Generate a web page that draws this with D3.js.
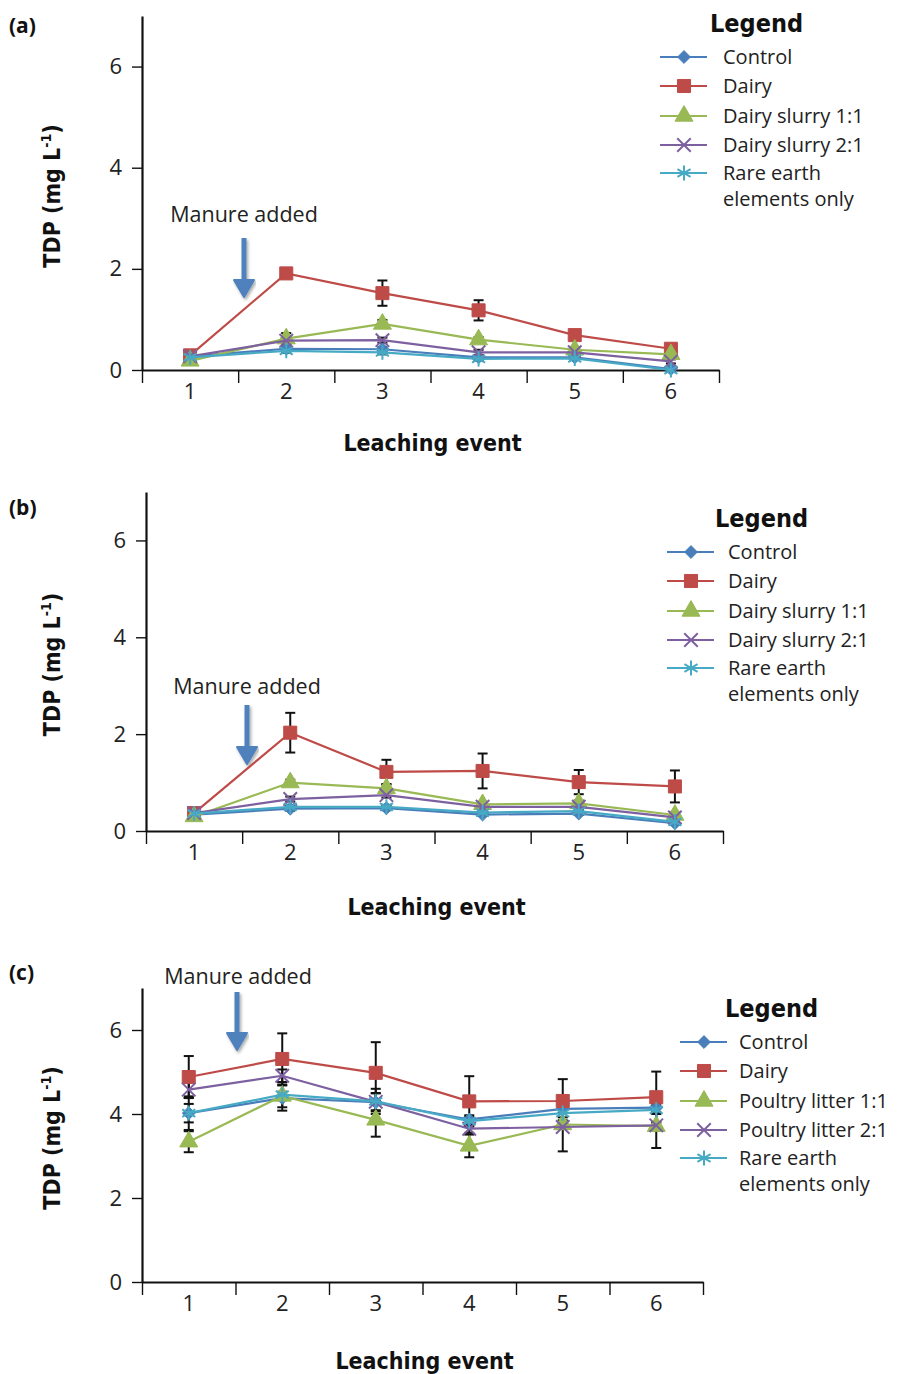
<!DOCTYPE html>
<html lang="en">
<head>
  <meta charset="UTF-8">
  <title>TDP by leaching event</title>
  <style>
      body { margin: 0; background: #fff; }
      .tick text { font: 22px "Open Sans", "Noto Sans", sans-serif; fill: #222; }
      .axis path, .axis line { stroke: #111; }
      .cond { font-family: "Liberation Sans Narrow", "DejaVu Sans Condensed", sans-serif; font-weight: bold; fill: #111; }
      .plain { font-family: "Open Sans", "Noto Sans", sans-serif; fill: #222; }
  </style>
</head>
<body>
<div id="chart"></div>
<script src="https://d3js.org/d3.v7.min.js"></script>
<script>
  const events = ['1', '2', '3', '4', '5', '6'];
  const yTicks = [0, 2, 4, 6];
  const namesAB = ['Control', 'Dairy', 'Dairy slurry 1:1', 'Dairy slurry 2:1', 'Rare earth elements only'];
  const namesC = ['Control', 'Dairy', 'Poultry litter 1:1', 'Poultry litter 2:1', 'Rare earth elements only'];

  // panel (a)
  const aControl = [0.27, 0.42, 0.41, 0.25, 0.25, 0.02];
  const aDairy = [0.29, 1.91, 1.52, 1.18, 0.69, 0.42];
  const aSlurry11 = [0.18, 0.62, 0.91, 0.60, 0.40, 0.31];
  const aSlurry21 = [0.27, 0.58, 0.59, 0.35, 0.35, 0.17];
  const aRare = [0.25, 0.38, 0.35, 0.22, 0.23, 0.00];
  const aControlErr = [0.03, 0.04, 0.04, 0.03, 0.03, 0.02];
  const aDairyErr = [0.04, 0.04, 0.25, 0.20, 0.04, 0.04];
  const aSlurry11Err = [0.03, 0.11, 0.08, 0.05, 0.05, 0.04];
  const aSlurry21Err = [0.03, 0.08, 0.05, 0.05, 0.06, 0.04];
  const aRareErr = [0.03, 0.04, 0.04, 0.03, 0.03, 0.02];

  // panel (b)
  const bControl = [0.34, 0.46, 0.47, 0.34, 0.36, 0.16];
  const bDairy = [0.37, 2.03, 1.22, 1.24, 1.01, 0.92];
  const bSlurry11 = [0.30, 1.00, 0.88, 0.55, 0.57, 0.33];
  const bSlurry21 = [0.37, 0.66, 0.74, 0.50, 0.50, 0.28];
  const bRare = [0.36, 0.50, 0.50, 0.38, 0.41, 0.19];
  const bControlErr = [0.03, 0.04, 0.04, 0.03, 0.03, 0.03];
  const bDairyErr = [0.05, 0.41, 0.25, 0.36, 0.25, 0.33];
  const bSlurry11Err = [0.03, 0.06, 0.08, 0.05, 0.06, 0.05];
  const bSlurry21Err = [0.03, 0.05, 0.05, 0.04, 0.04, 0.04];
  const bRareErr = [0.03, 0.04, 0.04, 0.03, 0.03, 0.03];

  // panel (c)
  const cControl = [4.02, 4.38, 4.28, 3.87, 4.12, 4.15];
  const cDairy = [4.88, 5.31, 4.98, 4.30, 4.31, 4.40];
  const cPoultry11 = [3.34, 4.43, 3.86, 3.24, 3.75, 3.71];
  const cPoultry21 = [4.58, 4.91, 4.29, 3.65, 3.69, 3.73];
  const cRare = [4.02, 4.46, 4.30, 3.83, 4.02, 4.10];
  const cControlErr = [0.22, 0.30, 0.22, 0.10, 0.10, 0.10];
  const cDairyErr = [0.50, 0.61, 0.73, 0.60, 0.52, 0.61];
  const cPoultry11Err = [0.25, 0.10, 0.40, 0.27, 0.10, 0.10];
  const cPoultry21Err = [0.20, 0.15, 0.20, 0.10, 0.58, 0.54];
  const cRareErr = [0.40, 0.30, 0.30, 0.10, 0.10, 0.10];

  const colors = ['#4A7EBB', '#BE4B48', '#98B954', '#7D60A0', '#46AAC5'];
  const symbols = [d3.symbolDiamond2 || d3.symbolDiamond, d3.symbolSquare, d3.symbolTriangle, d3.symbolTimes, d3.symbolAsterisk];
  const symbolSizes = [105, 170, 140, 120, 160];
  const stroked = [false, false, false, true, true];

  const panels = [
    {
      tag: '(a)', tagY: 33, x0: 142, x1: 719, yTop: 16, yBase: 370, titleY: 451,
      names: namesAB,
      values: [aControl, aDairy, aSlurry11, aSlurry21, aRare],
      errors: [aControlErr, aDairyErr, aSlurry11Err, aSlurry21Err, aRareErr],
      arrow: {x: 244, y1: 238, y2: 297}, note: {x: 244, y: 222},
      legend: {x: 660, text: 723, titleX: 710, y: 24}
    },
    {
      tag: '(b)', tagY: 515, x0: 146, x1: 723, yTop: 492, yBase: 831, titleY: 915,
      names: namesAB,
      values: [bControl, bDairy, bSlurry11, bSlurry21, bRare],
      errors: [bControlErr, bDairyErr, bSlurry11Err, bSlurry21Err, bRareErr],
      arrow: {x: 247, y1: 705, y2: 764}, note: {x: 247, y: 694},
      legend: {x: 667, text: 728, titleX: 715, y: 519}
    },
    {
      tag: '(c)', tagY: 980, x0: 142, x1: 703, yTop: 988, yBase: 1282, titleY: 1369,
      names: namesC,
      values: [cControl, cDairy, cPoultry11, cPoultry21, cRare],
      errors: [cControlErr, cDairyErr, cPoultry11Err, cPoultry21Err, cRareErr],
      arrow: {x: 237, y1: 992, y2: 1050}, note: {x: 238, y: 984},
      legend: {x: 680, text: 739, titleX: 725, y: 1009}
    }
  ];

  const svg = d3.select('#chart').append('svg')
    .attr('width', 898)
    .attr('height', 1374);

  const defs = svg.append('defs');
  defs.append('filter').attr('id', 'shadow')
    .append('feDropShadow')
    .attr('dx', 1.5).attr('dy', 2).attr('stdDeviation', 1.5)
    .attr('flood-color', '#000').attr('flood-opacity', 0.35);

  function marker(sel, i) {
    sel.attr('d', d3.symbol().type(symbols[i]).size(symbolSizes[i]))
      .attr('fill', stroked[i] ? 'none' : colors[i])
      .attr('stroke', colors[i])
      .attr('stroke-width', stroked[i] ? 2 : 1);
  }

  panels.forEach(p => {
    const g = svg.append('g');

    const x = d3.scaleBand().domain(events).range([p.x0, p.x1]);
    const xEdges = d3.scaleLinear().domain([0, events.length]).range([p.x0, p.x1]);
    const y = d3.scaleLinear().domain([0, 7]).range([p.yBase, p.yTop]);
    const cx = d => x(d) + x.bandwidth() / 2;

    // x axis: boundary ticks + centred labels
    g.append('g')
      .attr('class', 'axis')
      .attr('transform', `translate(0,${p.yBase})`)
      .call(d3.axisBottom(xEdges).tickValues(d3.range(events.length + 1)).tickFormat('').tickSize(13).tickSizeOuter(0))
      .call(a => a.select('.domain').attr('stroke-width', 2.2))
      .call(a => a.selectAll('.tick line').attr('stroke-width', 1.4));
    g.append('g')
      .attr('class', 'axis')
      .attr('transform', `translate(0,${p.yBase})`)
      .call(d3.axisBottom(x).tickSize(0).tickPadding(13))
      .call(a => a.select('.domain').remove());

    // y axis
    g.append('g')
      .attr('class', 'axis')
      .attr('transform', `translate(${p.x0},0)`)
      .call(d3.axisLeft(y).tickValues(yTicks).tickFormat(d3.format('d')).tickSize(10).tickSizeOuter(0).tickPadding(10))
      .call(a => a.select('.domain').attr('stroke-width', 2.2))
      .call(a => a.selectAll('.tick line').attr('stroke-width', 1.4));

    // panel tag
    g.append('text').attr('class', 'cond')
      .attr('x', 9).attr('y', p.tagY)
      .style('font-family', '"Open Sans", "Noto Sans", sans-serif')
      .style('font-size', '21px')
      .text(p.tag);

    // y title
    const yt = g.append('text').attr('class', 'cond')
      .attr('transform', `translate(60,${(p.yTop + p.yBase) / 2 + 3}) rotate(-90)`)
      .attr('text-anchor', 'middle')
      .style('font-size', '23px');
    yt.append('tspan').text('TDP (mg L');
    yt.append('tspan').attr('dy', -9).style('font-size', '14px').text('-1');
    yt.append('tspan').attr('dy', 9).text(')');

    // x title
    g.append('text').attr('class', 'cond')
      .attr('x', (p.x0 + p.x1) / 2 + 2).attr('y', p.titleY)
      .attr('text-anchor', 'middle')
      .style('font-size', '23px')
      .text('Leaching event');

    // annotation
    g.append('text').attr('class', 'plain')
      .attr('x', p.note.x).attr('y', p.note.y)
      .attr('text-anchor', 'middle')
      .style('font-size', '21.5px')
      .text('Manure added');
    const ah = 17;
    const arrow = g.append('g').attr('filter', 'url(#shadow)');
    arrow.append('line')
      .attr('x1', p.arrow.x).attr('x2', p.arrow.x)
      .attr('y1', p.arrow.y1).attr('y2', p.arrow.y2 - ah + 2)
      .attr('stroke', '#4F81BD').attr('stroke-width', 5);
    arrow.append('path')
      .attr('d', `M${p.arrow.x - 10},${p.arrow.y2 - ah} L${p.arrow.x + 10},${p.arrow.y2 - ah} L${p.arrow.x},${p.arrow.y2} Z`)
      .attr('fill', '#4F81BD')
      .attr('stroke', '#4F81BD').attr('stroke-linejoin', 'round').attr('stroke-width', 2);

    const line = d3.line().x((d, i) => cx(events[i])).y(d => y(d));

    // error bars
    p.values.forEach((vals, s) => {
      const eg = g.append('g').attr('stroke', '#111').attr('stroke-width', 2);
      vals.forEach((v, i) => {
        const e = p.errors[s][i];
        const xx = cx(events[i]);
        eg.append('line').attr('x1', xx).attr('x2', xx).attr('y1', y(v - e)).attr('y2', y(v + e));
        eg.append('line').attr('x1', xx - 5).attr('x2', xx + 5).attr('y1', y(v - e)).attr('y2', y(v - e));
        eg.append('line').attr('x1', xx - 5).attr('x2', xx + 5).attr('y1', y(v + e)).attr('y2', y(v + e));
      });
    });

    // series
    p.values.forEach((vals, s) => {
      g.append('path')
        .datum(vals)
        .attr('fill', 'none')
        .attr('stroke', colors[s])
        .attr('stroke-width', 2.2)
        .attr('d', line);
      g.selectAll(null)
        .data(vals)
        .enter().append('path')
        .attr('transform', (d, i) => `translate(${cx(events[i])},${y(d)})`)
        .call(marker, s);
    });

    // legend
    const lg = g.append('g');
    lg.append('text').attr('class', 'cond')
      .attr('x', p.legend.titleX).attr('y', p.legend.y + 8)
      .style('font-size', '25px')
      .text('Legend');
    const rowOffsets = [33, 62, 92, 121, 149];
    p.names.forEach((name, s) => {
      const ry = p.legend.y + rowOffsets[s];
      lg.append('line')
        .attr('x1', p.legend.x).attr('x2', p.legend.x + 47)
        .attr('y1', ry).attr('y2', ry)
        .attr('stroke', colors[s]).attr('stroke-width', 2.2);
      lg.append('path')
        .attr('transform', `translate(${p.legend.x + 24},${ry})`)
        .call(marker, s);
      const t = lg.append('text').attr('class', 'plain')
        .attr('x', p.legend.text).attr('y', ry + 7)
        .style('font-size', '20px');
      if (name === 'Rare earth elements only') {
        t.append('tspan').text('Rare earth');
        t.append('tspan').attr('x', p.legend.text).attr('dy', 26).text('elements only');
      } else {
        t.text(name);
      }
    });
  });
</script>
</body>
</html>
